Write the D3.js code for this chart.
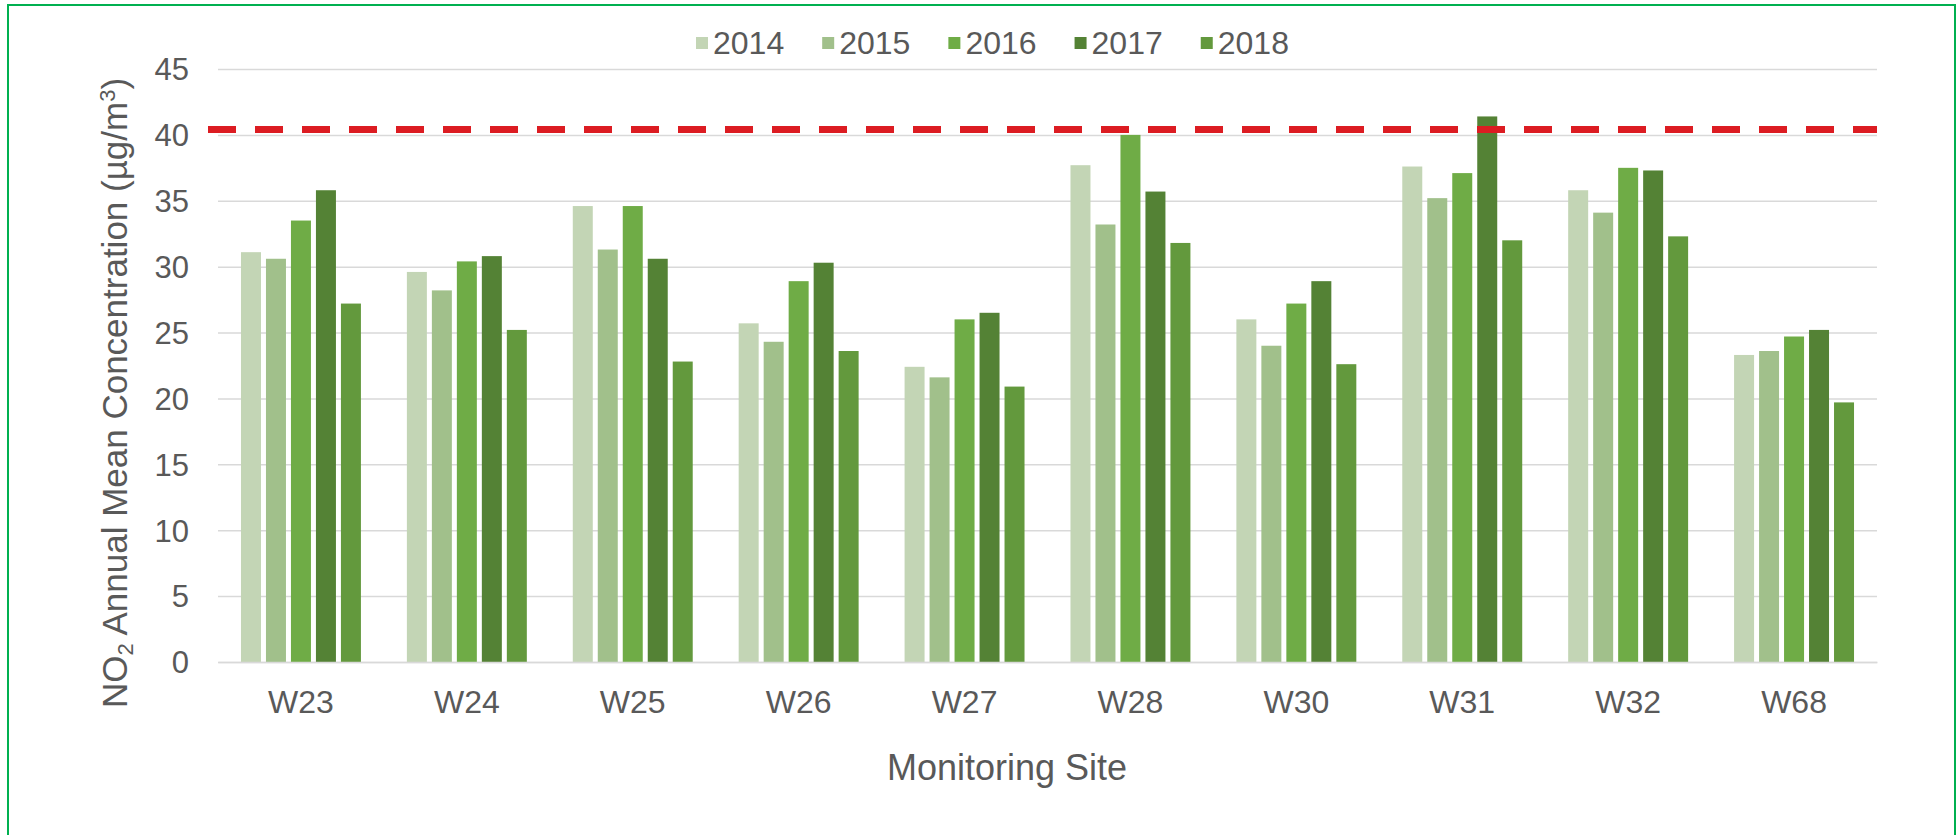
<!DOCTYPE html>
<html>
<head>
<meta charset="utf-8">
<script src="https://cdn.jsdelivr.net/npm/d3@7"></script>
<style>
    body { margin: 0; background: #fff; }
    text { font-family: "Liberation Sans", Arial, sans-serif; fill: #595959; }
</style>
</head>
<body>
<div id="container"></div>
<script>
const sites = ['W23', 'W24', 'W25', 'W26', 'W27', 'W28', 'W30', 'W31', 'W32', 'W68'];
const years = ['2014', '2015', '2016', '2017', '2018'];
const v2014 = [31.1, 29.6, 34.6, 25.7, 22.4, 37.7, 26.0, 37.6, 35.8, 23.3];
const v2015 = [30.6, 28.2, 31.3, 24.3, 21.6, 33.2, 24.0, 35.2, 34.1, 23.6];
const v2016 = [33.5, 30.4, 34.6, 28.9, 26.0, 40.0, 27.2, 37.1, 37.5, 24.7];
const v2017 = [35.8, 30.8, 30.6, 30.3, 26.5, 35.7, 28.9, 41.4, 37.3, 25.2];
const v2018 = [27.2, 25.2, 22.8, 23.6, 20.9, 31.8, 22.6, 32.0, 32.3, 19.7];
const yTicks = [0, 5, 10, 15, 20, 25, 30, 35, 40, 45];
const limitValue = 40.4;
const colors = ['#c3d5b5', '#a1c08b', '#6fac46', '#548235', '#63993d'];

const series = [v2014, v2015, v2016, v2017, v2018];
const data = sites.map((s, i) => ({ site: s, values: years.map((y, j) => ({ year: y, value: series[j][i] })) }));

const W = 1959, H = 835;
const plotLeft = 218, plotRight = 1877, plotTop = 69, plotBottom = 662;

const svg = d3.select('#container')
    .append('svg')
    .attr('width', W)
    .attr('height', H);

// green frame round the chart area
svg.append('rect')
    .attr('x', 8).attr('y', 5)
    .attr('width', 1947).attr('height', 850)
    .attr('fill', 'none')
    .attr('stroke', '#00b050')
    .attr('stroke-width', 2);

const x0 = d3.scaleBand()
    .domain(sites)
    .range([plotLeft, plotRight])
    .paddingInner(0.277)
    .paddingOuter(0.1385);

const x1 = d3.scaleBand()
    .domain(years)
    .range([0, x0.bandwidth()])
    .paddingInner(0.2)
    .paddingOuter(0);

const y = d3.scaleLinear()
    .domain([0, 45])
    .range([plotBottom, plotTop]);

const color = d3.scaleOrdinal().domain(years).range(colors);

// gridlines
svg.append('g')
    .attr('class', 'grid')
    .attr('transform', `translate(${plotLeft},0)`)
    .call(d3.axisLeft(y).tickValues(yTicks).tickSize(-(plotRight - plotLeft)).tickFormat(''))
    .call(g => g.select('.domain').remove())
    .call(g => g.selectAll('line').attr('stroke', '#d9d9d9').attr('stroke-width', 1.5));

// y tick labels
svg.append('g')
    .attr('id', 'y-axis')
    .attr('transform', `translate(${plotLeft - 29},0)`)
    .call(d3.axisLeft(y).tickValues(yTicks).tickSize(0).tickPadding(0))
    .call(g => g.select('.domain').remove())
    .call(g => g.selectAll('text')
        .style('font-size', '31px')
        .attr('dy', '0.35em')
        .style('fill', '#595959'));

// bars
const groups = svg.selectAll('g.site')
    .data(data)
    .enter()
    .append('g')
    .attr('class', 'site')
    .attr('transform', d => `translate(${x0(d.site)},0)`);

groups.selectAll('rect')
    .data(d => d.values)
    .enter()
    .append('rect')
    .attr('x', d => x1(d.year))
    .attr('y', d => y(d.value))
    .attr('width', x1.bandwidth())
    .attr('height', d => y(0) - y(d.value))
    .attr('fill', d => color(d.year));

// x axis
svg.append('g')
    .attr('id', 'x-axis')
    .attr('transform', `translate(0,${plotBottom})`)
    .call(d3.axisBottom(x0).tickSize(0).tickPadding(28))
    .call(g => g.select('.domain').attr('stroke', '#d9d9d9').attr('stroke-width', 1.5))
    .call(g => g.selectAll('text')
        .style('font-size', '32px')
        .style('fill', '#595959'));

// limit line
svg.append('line')
    .attr('x1', plotLeft - 10)
    .attr('x2', plotRight)
    .attr('y1', y(limitValue))
    .attr('y2', y(limitValue))
    .attr('stroke', '#dc1c22')
    .attr('stroke-width', 7)
    .attr('stroke-dasharray', '28,19');

// axis titles
svg.append('text')
    .attr('x', 1007)
    .attr('y', 780)
    .attr('text-anchor', 'middle')
    .style('font-size', '36px')
    .text('Monitoring Site');

const yTitle = svg.append('text')
    .attr('transform', 'translate(127,393) rotate(-90)')
    .attr('text-anchor', 'middle')
    .style('font-size', '35px');
yTitle.append('tspan').text('NO');
yTitle.append('tspan').attr('dy', 6).style('font-size', '22px').text('2');
yTitle.append('tspan').attr('dy', -6).text(' Annual Mean Concentration (µg/m');
yTitle.append('tspan').attr('dy', -12).style('font-size', '22px').text('3');
yTitle.append('tspan').attr('dy', 12).text(')');

// legend
const legend = svg.append('g').attr('class', 'legend');
let lx = 696;
years.forEach((yr, i) => {
    legend.append('rect')
        .attr('x', lx).attr('y', 37)
        .attr('width', 12).attr('height', 12)
        .attr('fill', colors[i]);
    const t = legend.append('text')
        .attr('x', lx + 17)
        .attr('y', 54)
        .style('font-size', '32px')
        .text(yr);
    lx += 17 + t.node().getComputedTextLength() + 38;
});
</script>
</body>
</html>
